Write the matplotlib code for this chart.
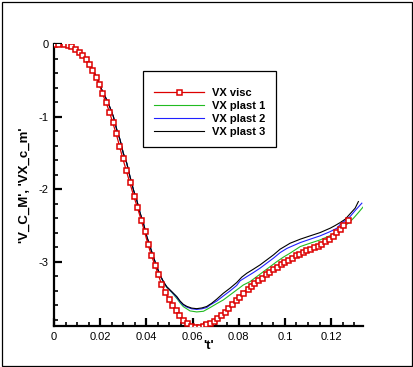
import matplotlib
matplotlib.use('Agg')
import matplotlib.pyplot as plt
from matplotlib.patches import Rectangle
from matplotlib.ticker import MultipleLocator

plt.rcParams['font.family'] = ['Liberation Sans', 'DejaVu Sans']
plt.rcParams['axes.unicode_minus'] = False

# VX visc (with markers)
t_visc = [0, 0.0019, 0.0043, 0.0059, 0.0075, 0.0092, 0.0110, 0.0123, 0.0137, 0.0152,
          0.0166, 0.0182, 0.0195, 0.0209, 0.0224, 0.0240, 0.0254, 0.0269, 0.0283, 0.0297,
          0.0312, 0.0328, 0.0345, 0.0361, 0.0377, 0.0392, 0.0406, 0.0421, 0.0436, 0.0451,
          0.0465, 0.0480, 0.0497, 0.0511, 0.0527, 0.0542, 0.0559, 0.0575, 0.0592, 0.0609,
          0.0627, 0.0645, 0.0660, 0.0676, 0.0692, 0.0706, 0.0723, 0.0741, 0.0755, 0.0771,
          0.0787, 0.0803, 0.0820, 0.0838, 0.0852, 0.0868, 0.0884, 0.0901, 0.0917, 0.0933,
          0.0947, 0.0964, 0.0981, 0.0996, 0.1012, 0.1031, 0.1047, 0.1061, 0.1077, 0.1093,
          0.1110, 0.1126, 0.1142, 0.1157, 0.1175, 0.1190, 0.1207, 0.1222, 0.1239, 0.1253,
          0.1274]
v_visc = [0, -0.005, -0.005, -0.018, -0.032, -0.064, -0.106, -0.147, -0.202, -0.276,
          -0.359, -0.451, -0.548, -0.681, -0.796, -0.935, -1.082, -1.233, -1.401, -1.569,
          -1.735, -1.910, -2.094, -2.252, -2.423, -2.585, -2.752, -2.908, -3.042, -3.176,
          -3.309, -3.417, -3.518, -3.606, -3.675, -3.741, -3.806, -3.852, -3.884, -3.907,
          -3.907, -3.884, -3.866, -3.843, -3.815, -3.783, -3.737, -3.691, -3.636, -3.585,
          -3.530, -3.484, -3.428, -3.373, -3.341, -3.300, -3.254, -3.221, -3.176, -3.139,
          -3.102, -3.069, -3.028, -3.005, -2.973, -2.945, -2.913, -2.895, -2.872, -2.844,
          -2.821, -2.803, -2.780, -2.752, -2.720, -2.683, -2.642, -2.596, -2.545, -2.494,
          -2.434]

# VX plast 3 (black)
t_p3 = [0, 0.004, 0.008, 0.012, 0.016, 0.0185, 0.0207, 0.0235, 0.0257, 0.0272,
        0.0286, 0.0300, 0.0315, 0.0329, 0.0344, 0.0358, 0.0373, 0.0387, 0.0402, 0.0416,
        0.0430, 0.0445, 0.0459, 0.0474, 0.0488, 0.0510, 0.0532, 0.0546, 0.0560, 0.0575,
        0.0596, 0.0618, 0.0640, 0.0661, 0.0683, 0.0705, 0.0733, 0.0762, 0.0791, 0.0813,
        0.0835, 0.0863, 0.0892, 0.0921, 0.0950, 0.0979, 0.1008, 0.1022, 0.1066, 0.1109,
        0.1152, 0.1196, 0.1217, 0.1239, 0.1261, 0.1282, 0.1304, 0.1318]
v_p3 = [0, -0.004, -0.040, -0.135, -0.310, -0.460, -0.631, -0.814, -0.999, -1.183,
        -1.321, -1.505, -1.643, -1.828, -2.011, -2.149, -2.333, -2.471, -2.656, -2.794,
        -2.932, -3.070, -3.185, -3.277, -3.346, -3.415, -3.484, -3.545, -3.590, -3.618,
        -3.642, -3.650, -3.640, -3.620, -3.575, -3.518, -3.438, -3.368, -3.290, -3.215,
        -3.161, -3.106, -3.047, -2.978, -2.909, -2.830, -2.775, -2.748, -2.692, -2.646,
        -2.601, -2.540, -2.504, -2.463, -2.416, -2.342, -2.264, -2.173]

# VX plast 2 (blue)
t_p2 = [0, 0.004, 0.008, 0.012, 0.016, 0.0185, 0.0207, 0.0235, 0.0257, 0.0272,
        0.0286, 0.0300, 0.0315, 0.0329, 0.0344, 0.0358, 0.0373, 0.0387, 0.0402, 0.0416,
        0.0430, 0.0445, 0.0459, 0.0474, 0.0488, 0.0510, 0.0532, 0.0546, 0.0560, 0.0575,
        0.0596, 0.0618, 0.0640, 0.0661, 0.0676, 0.0705, 0.0733, 0.0762, 0.0791, 0.0806,
        0.0835, 0.0863, 0.0892, 0.0921, 0.0950, 0.0979, 0.1008, 0.1022, 0.1066, 0.1109,
        0.1152, 0.1196, 0.1225, 0.1239, 0.1261, 0.1282, 0.1304, 0.1333]
v_p2 = [0, -0.004, -0.040, -0.135, -0.310, -0.460, -0.631, -0.814, -0.999, -1.183,
        -1.321, -1.505, -1.643, -1.828, -2.011, -2.149, -2.333, -2.471, -2.656, -2.794,
        -2.932, -3.070, -3.187, -3.280, -3.350, -3.420, -3.495, -3.555, -3.600, -3.628,
        -3.652, -3.660, -3.652, -3.635, -3.599, -3.544, -3.475, -3.406, -3.330, -3.265,
        -3.208, -3.153, -3.092, -3.023, -2.954, -2.877, -2.820, -2.800, -2.739, -2.692,
        -2.646, -2.587, -2.540, -2.490, -2.435, -2.380, -2.297, -2.195]

# VX plast 1 (green)
t_p1 = [0, 0.004, 0.008, 0.012, 0.016, 0.0185, 0.0207, 0.0235, 0.0257, 0.0272,
        0.0286, 0.0300, 0.0315, 0.0329, 0.0344, 0.0358, 0.0373, 0.0387, 0.0402, 0.0416,
        0.0430, 0.0445, 0.0459, 0.0474, 0.0488, 0.0510, 0.0532, 0.0546, 0.0560, 0.0589,
        0.0618, 0.0647, 0.0676, 0.0705, 0.0733, 0.0762, 0.0791, 0.0820, 0.0849, 0.0878,
        0.0907, 0.0936, 0.0965, 0.0993, 0.1022, 0.1066, 0.1109, 0.1152, 0.1196, 0.1225,
        0.1253, 0.1275, 0.1297, 0.1318, 0.1340]
v_p1 = [0, -0.004, -0.040, -0.135, -0.310, -0.460, -0.631, -0.814, -0.999, -1.183,
        -1.321, -1.505, -1.643, -1.828, -2.011, -2.149, -2.333, -2.471, -2.656, -2.794,
        -2.932, -3.072, -3.190, -3.285, -3.358, -3.425, -3.510, -3.570, -3.622, -3.681,
        -3.695, -3.686, -3.635, -3.580, -3.530, -3.461, -3.392, -3.323, -3.277, -3.208,
        -3.139, -3.070, -3.001, -2.940, -2.885, -2.794, -2.747, -2.702, -2.642, -2.595,
        -2.518, -2.471, -2.402, -2.325, -2.242]

xticks = [0, 0.02, 0.04, 0.06, 0.08, 0.1, 0.12]
xticklabels = ['0', '0.02', '0.04', '0.06', '0.08', '0.1', '0.12']
yticks = [0, -1, -2, -3]
yticklabels = ['0', '-1', '-2', '-3']

fig = plt.figure(figsize=(4.13, 3.67), dpi=100)
ax = fig.add_axes([54/413, 1-326/367, 309/413, 282/367])

ax.plot(t_visc, v_visc, color='#dd0000', lw=0.9, marker='s', ms=3.6,
        mfc='white', mec='#dd0000', mew=1.1, label='VX visc', zorder=5)
ax.plot(t_p1, v_p1, color='#22bb22', lw=0.8, label='VX plast 1')
ax.plot(t_p2, v_p2, color='#2020ff', lw=0.8, label='VX plast 2')
ax.plot(t_p3, v_p3, color='black', lw=0.8, label='VX plast 3')

ax.set_xlim(0, 0.1338)
ax.set_ylim(-3.889, 0)

for s in ['top', 'right']:
    ax.spines[s].set_visible(False)
for s in ['left', 'bottom']:
    ax.spines[s].set_linewidth(1.6)

ax.set_xticks(xticks)
ax.set_xticklabels(xticklabels)
ax.set_yticks(yticks)
ax.set_yticklabels(yticklabels)
ax.xaxis.set_minor_locator(MultipleLocator(0.005))
ax.yaxis.set_minor_locator(MultipleLocator(0.2))
ax.tick_params(which='major', direction='in', length=5.5, width=1.6,
               labelsize=8, pad=4)
ax.tick_params(which='minor', direction='in', length=3, width=1.2)

ax.set_xlabel("'t'", fontsize=9.5, fontweight='bold')
ax.set_ylabel("'V_C_M', 'VX_c_m'", fontsize=9.5, fontweight='bold')
ax.xaxis.label.set_va('center')
ax.yaxis.label.set_va('center')
ax.xaxis.set_label_coords(0.5016, -0.072)
ax.yaxis.set_label_coords(-0.094, 0.5)

# legend box drawn separately, entries without frame
ax.add_patch(Rectangle((0.288, 0.6348), 0.4304, 0.2695, transform=ax.transAxes,
                       facecolor='white', edgecolor='black', lw=0.9, zorder=9))
leg = ax.legend(loc='upper left', bbox_to_anchor=(0.3236, 0.844),
                borderaxespad=0, borderpad=0, frameon=False,
                prop={'weight': 'bold', 'size': 8}, handlelength=4.5,
                handletextpad=0.72, labelspacing=0.28, numpoints=1)
leg.set_zorder(10)

fig.patches.append(Rectangle((1.5/413, 1.5/367), 410/413, 364/367,
                             transform=fig.transFigure, fill=False,
                             edgecolor='black', lw=0.9))

fig.savefig('out.png', dpi=100)
